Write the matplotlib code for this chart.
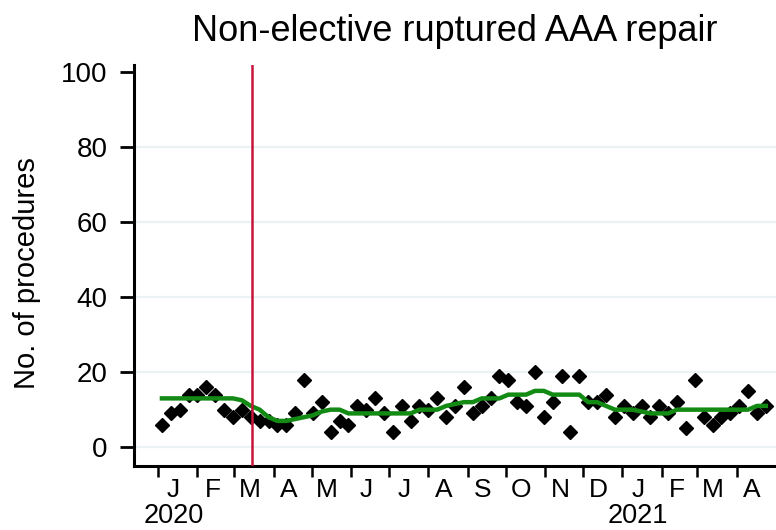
import matplotlib
matplotlib.use('Agg')
import matplotlib.pyplot as plt
import matplotlib.transforms as mtransforms
import pandas as pd

plt.rcParams['font.family'] = ['Liberation Sans', 'DejaVu Sans']

# weekly counts, Jan 2020 - Apr 2021
weeks = pd.date_range('2020-01-04', periods=69, freq='7D')
procedures = [6, 9, 10, 14, 14, 16, 14, 10, 8, 10,
              8, 7, 7, 6, 6, 9, 18, 9, 12, 4,
              7, 6, 11, 10, 13, 9, 4, 11, 7, 11,
              10, 13, 8, 11, 16, 9, 11, 13, 19, 18,
              12, 11, 20, 8, 12, 19, 4, 19, 12, 12,
              14, 8, 11, 9, 11, 8, 11, 9, 12, 5,
              18, 8, 6, 8, 9, 11, 15, 9, 11]
# smoothed trend line
trend = [13, 13, 13, 13, 13, 13, 13, 13, 13, 12.5,
         11, 10, 8, 7, 7, 7.5, 8, 8.5, 9.5, 10,
         10, 9, 9, 9, 9, 9, 9, 9, 9, 10,
         10, 10, 11, 11.5, 12, 12, 13, 13, 13, 14,
         14, 14, 15, 15, 14, 14, 14, 14, 12, 12,
         11, 10, 10, 10, 9.5, 9, 9, 9, 10, 10,
         10, 10, 10, 10, 10, 10, 10, 11, 11]

lockdown = pd.Timestamp('2020-03-15')
month_starts = pd.date_range('2020-01-01', '2021-04-01', freq='MS')
month_letters = ['J', 'F', 'M', 'A', 'M', 'J', 'J', 'A', 'S', 'O', 'N', 'D',
                 'J', 'F', 'M', 'A']
years = ['2020', '2021']
year_pos = [pd.Timestamp('2020-01-13'), pd.Timestamp('2021-01-13')]
yticks = [0, 20, 40, 60, 80, 100]

fig = plt.figure(figsize=(7.76, 5.30), dpi=100)
ax = fig.add_axes([0.1727, 0.1208, 0.8273, 0.7566])

for y in yticks[:-1]:
    ax.axhline(y, color='#EAF2F3', lw=1.6, zorder=0)

ax.plot(weeks, procedures, 'D', color='black', ms=7.2, zorder=2)
ax.plot(weeks, trend, color='#138A13', lw=3.2, zorder=3)
ax.axvline(lockdown, color='#C8143C', lw=1.8, zorder=4)

ax.set_xlim(weeks[0] - pd.Timedelta(days=22), weeks[-1] + pd.Timedelta(days=8))
ax.set_ylim(-5, 101.8)

ax.set_xticks(month_starts, minor=True)
ax.set_xticks(month_starts + pd.Timedelta(days=12))
ax.set_xticklabels(month_letters)
ax.tick_params(axis='x', which='major', length=0, pad=9, labelsize=19)
ax.tick_params(axis='x', which='minor', length=8, width=1.8)

ax.set_yticks(yticks)
ax.tick_params(axis='y', length=10, width=2, pad=9, labelsize=20)

trans = mtransforms.blended_transform_factory(ax.transData, ax.transAxes)
for pos, yr in zip(year_pos, years):
    ax.text(pos, -0.093, yr, transform=trans, ha='center', va='top', fontsize=19.5)

for side in ['top', 'right']:
    ax.spines[side].set_visible(False)
for side in ['left', 'bottom']:
    ax.spines[side].set_linewidth(2.2)

fig.text(27 / 776, 1 - 273 / 530, 'No. of procedures', rotation=90,
         ha='center', va='center', fontsize=21)
fig.text(455 / 776, 1 - 41 / 530, 'Non-elective ruptured AAA repair',
         ha='center', va='baseline', fontsize=26)

fig.savefig('out.png', dpi=100)
